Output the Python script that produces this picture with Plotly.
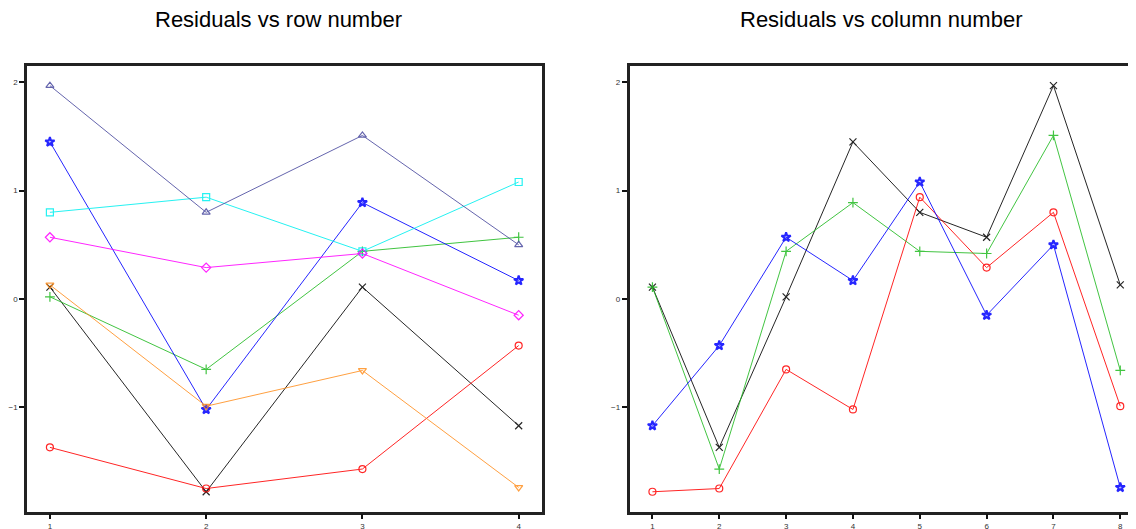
import plotly.graph_objects as go

# Residual matrix: 4 rows x 8 columns
row_numbers = [1, 2, 3, 4]
col_numbers = [1, 2, 3, 4, 5, 6, 7, 8]
row1 = [0.11, -1.37, 0.02, 1.45, 0.80, 0.57, 1.97, 0.13]
row2 = [-1.78, -1.75, -0.65, -1.02, 0.94, 0.29, 0.80, -0.99]
row3 = [0.11, -1.57, 0.44, 0.89, 0.44, 0.42, 1.51, -0.66]
row4 = [-1.17, -0.43, 0.57, 0.17, 1.08, -0.15, 0.50, -1.74]
rows = [row1, row2, row3, row4]

colors = ["#000000", "#FF0000", "#22BB22", "#0000FF", "#00F0F0", "#FF00FF", "#4B4BA0", "#FF9020"]
symbols = ["x-thin-open", "circle-open", "cross-thin-open", "star-open",
           "square-open", "diamond-open", "triangle-up-open", "triangle-down-open"]
mwidth = [1.2, 1.2, 1.2, 2.0, 1.2, 1.2, 1.2, 1.2]

fig = go.Figure()

# Left: residuals vs row number, one line per column
for j in range(8):
    fig.add_trace(go.Scatter(
        x=row_numbers, y=[r[j] for r in rows], mode="lines+markers",
        line=dict(color=colors[j], width=1),
        marker=dict(symbol=symbols[j], size=7, color=colors[j], line=dict(width=mwidth[j], color=colors[j])),
        xaxis="x", yaxis="y", showlegend=False, opacity=0.85))

# Right: residuals vs column number, one line per row
for i in range(4):
    fig.add_trace(go.Scatter(
        x=col_numbers, y=rows[i], mode="lines+markers",
        line=dict(color=colors[i], width=1),
        marker=dict(symbol=symbols[i], size=7, color=colors[i], line=dict(width=mwidth[i], color=colors[i])),
        xaxis="x2", yaxis="y2", showlegend=False, opacity=0.85))

W, H = 1136, 529
OFF = 8  # page body margin offset
yr = [-1.964, 2.154]
ydom = [(H - (511.7 - OFF)) / H, (H - (65.7 - OFF)) / H]
ax_common = dict(showgrid=False, zeroline=False, showline=True, linewidth=2.5, linecolor="#222222",
                 ticks="outside", ticklen=5, tickwidth=2, tickcolor="#111111",
                 tickfont=dict(family="Liberation Sans, Arial, sans-serif", size=8, color="#333333"))

fig.update_layout(
    width=W, height=H, margin=dict(l=0, r=0, t=0, b=0),
    paper_bgcolor="white", plot_bgcolor="white",
    xaxis=dict(domain=[(26 - OFF) / W, (543 - OFF) / W], range=[0.853, 4.15], tickvals=row_numbers,
               mirror=True, anchor="y", **ax_common),
    yaxis=dict(domain=ydom, range=yr, tickvals=[-1, 0, 1, 2],
               mirror=True, anchor="x", **ax_common),
    xaxis2=dict(domain=[(630.7 - OFF) / W, 1.0], range=[0.657, 8.31], tickvals=col_numbers,
                mirror=True, anchor="y2", **ax_common),
    yaxis2=dict(domain=ydom, range=yr, tickvals=[-1, 0, 1, 2],
                mirror=True, anchor="x2", **ax_common),
    annotations=[
        dict(text="Residuals vs row number", x=(278 - OFF) / W, y=(H - (20 - OFF)) / H,
             xref="paper", yref="paper", showarrow=False, xanchor="center", yanchor="middle",
             font=dict(family="Liberation Sans, Arial, sans-serif", size=22, color="#000000")),
        dict(text="Residuals vs column number", x=(883 - OFF) / W, y=(H - (20 - OFF)) / H,
             xref="paper", yref="paper", showarrow=False, xanchor="center", yanchor="middle",
             font=dict(family="Liberation Sans, Arial, sans-serif", size=22, color="#000000")),
    ],
)

fig.write_html("out.html")
